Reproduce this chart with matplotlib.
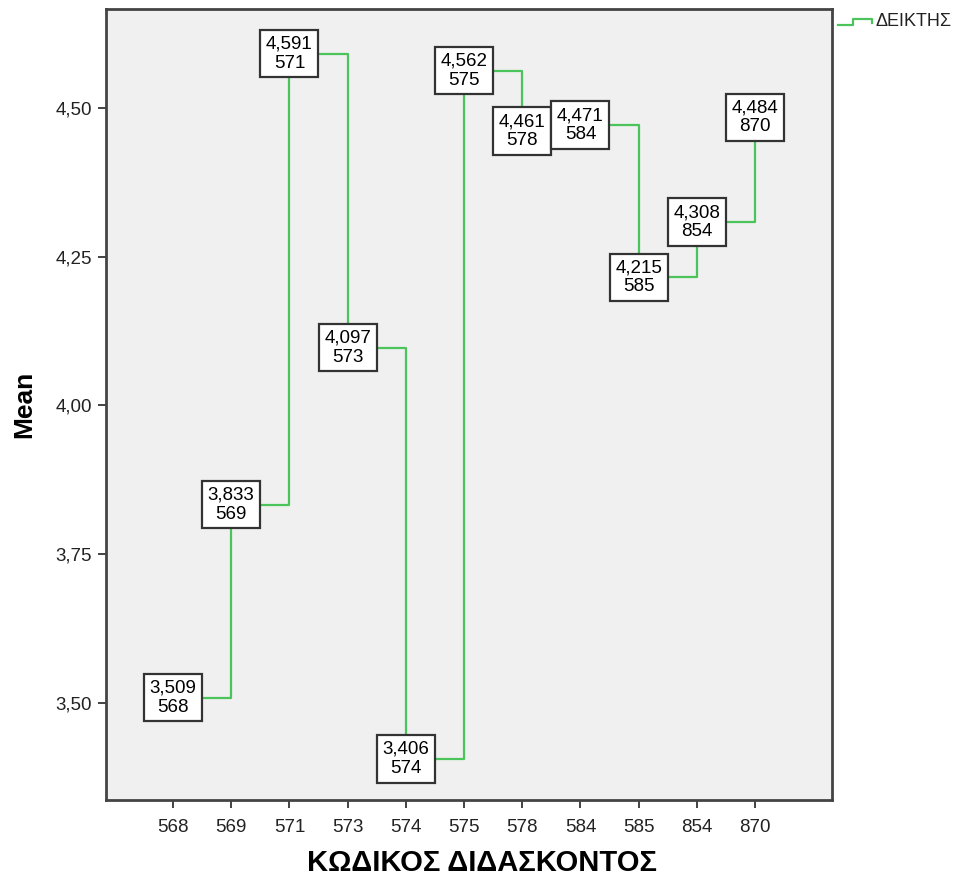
import matplotlib
matplotlib.use("Agg")
import matplotlib.pyplot as plt
from matplotlib.lines import Line2D

plt.rcParams['font.family'] = ['Liberation Sans', 'DejaVu Sans']

# Data: teacher codes and mean index values
codes = ["568", "569", "571", "573", "574", "575", "578", "584", "585", "854", "870"]
means = [3.509, 3.833, 4.591, 4.097, 3.406, 4.562, 4.461, 4.471, 4.215, 4.308, 4.484]

line_color = "#4cc45c"

fig = plt.figure(figsize=(9.58, 8.84), dpi=100)
ax = fig.add_axes([106 / 958, 84 / 884, (832 - 106) / 958, (800 - 9) / 884])
ax.set_facecolor("#f0f0f0")

xs = list(range(len(codes)))
ax.step(xs, means, where="post", color=line_color, linewidth=1.6, zorder=2)

# Boxed labels on each point
for x, m, c in zip(xs, means, codes):
    txt = f"{m:.3f}".replace(".", ",") + "\n" + c
    ax.text(x, m, txt, ha="center", va="center", fontsize=13.5, linespacing=1.15,
            zorder=3,
            bbox=dict(boxstyle="square,pad=0.3", facecolor="white",
                      edgecolor="#333333", linewidth=1.6))

ax.set_xlim(-1.15, 11.32)
ax.set_ylim(3.337, 4.666)
ax.set_xticks(xs)
ax.set_xticklabels(codes)
yt = [3.50, 3.75, 4.00, 4.25, 4.50]
ax.set_yticks(yt)
ax.set_yticklabels([f"{v:.2f}".replace(".", ",") for v in yt])
ax.tick_params(labelsize=13.5, length=6, width=1.2, colors="#222222")
ax.tick_params(axis="x", pad=8)
ax.tick_params(axis="y", pad=4)

for s in ax.spines.values():
    s.set_color("#444444")
    s.set_linewidth(2)

ax.set_ylabel("Mean", fontsize=19, fontweight="bold", labelpad=14)
ax.set_xlabel("ΚΩΔΙΚΟΣ ΔΙΔΑΣΚΟΝΤΟΣ", fontsize=21, fontweight="bold")
ax.xaxis.set_label_coords(0.518, -0.062)

# Legend drawn outside the plot, step-shaped icon
icon = Line2D([838 / 958, 853 / 958, 853 / 958, 872 / 958, 872 / 958],
              [1 - 25 / 884, 1 - 25 / 884, 1 - 19 / 884, 1 - 19 / 884, 1 - 23 / 884],
              transform=fig.transFigure, color=line_color, linewidth=1.6)
fig.add_artist(icon)
fig.text(876 / 958, 1 - 22 / 884, "ΔΕΙΚΤΗΣ", fontsize=13, va="center", ha="left",
         color="#222222")

fig.savefig("out.png", dpi=100)
